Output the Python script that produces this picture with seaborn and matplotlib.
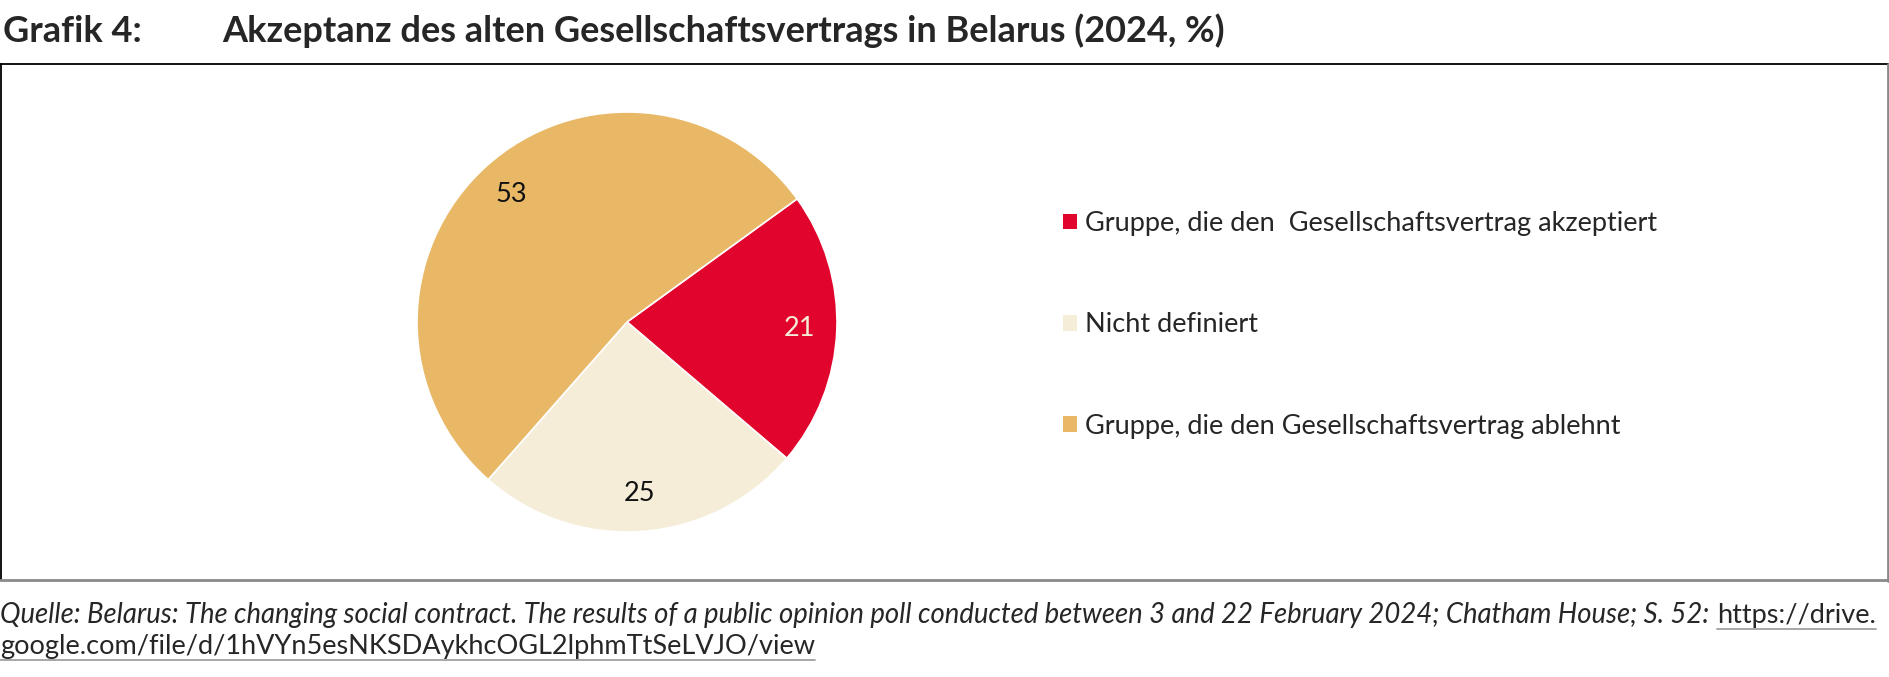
import matplotlib
matplotlib.use("Agg")
import matplotlib.pyplot as plt
import seaborn as sns
from matplotlib.lines import Line2D
from matplotlib.patches import Patch

# data
labels = ["Gruppe, die den  Gesellschaftsvertrag akzeptiert",
          "Nicht definiert",
          "Gruppe, die den Gesellschaftsvertrag ablehnt"]
values = [21, 25, 53]
colors = ["#E1052D", "#F5EDD7", "#E8B867"]
label_colors = ["#F5EDD7", "#111111", "#111111"]

title_num = "Grafik 4:"
title = "Akzeptanz des alten Gesellschaftsvertrags in Belarus (2024, %)"
source = ("Quelle: Belarus: The changing social contract. The results of a public opinion poll "
          "conducted between 3 and 22 February 2024; Chatham House; S. 52:")
link1 = "https://drive."
link2 = "google.com/file/d/1hVYn5esNKSDAykhcOGL2lphmTtSeLVJO/view"

sns.set_theme(style="white")
plt.rcParams["font.family"] = ["Lato", "DejaVu Sans"]

W, H = 1890, 677
fig = plt.figure(figsize=(W / 100, H / 100), dpi=100)
fig.patch.set_facecolor("white")

def fx(px):
    return px / W

def fy(py):
    return 1 - py / H

# pie: centre (627, 322), radius 210 px
cx, cy, r = 627, 322, 210
ax = fig.add_axes([fx(cx - r), fy(cy + r), 2 * r / W, 2 * r / H])
total = sum(values)
wedges, texts, autotexts = ax.pie(
    values, colors=colors, startangle=35.9, counterclock=False,
    autopct=lambda p: f"{p * total / 100:.0f}", pctdistance=0.82,
    wedgeprops=dict(edgecolor="white", linewidth=1.2),
    textprops=dict(fontsize=19.5))
for t, c in zip(autotexts, label_colors):
    t.set_color(c)
ax.set_xlim(-1, 1)
ax.set_ylim(-1, 1)
ax.set_aspect("equal")
ax.axis("off")

# legend
handles = [Patch(facecolor=c, edgecolor="none") for c in colors]
fig.legend(handles, labels, loc="upper left",
           bbox_to_anchor=(fx(1063), fy(211)), frameon=False,
           fontsize=19.5, handlelength=0.52, handleheight=0.52,
           handletextpad=0.3, labelspacing=2.82, borderpad=0, borderaxespad=0)

# title
fig.text(fx(3), fy(42), title_num, fontsize=26, fontweight="bold", va="baseline")
fig.text(fx(222), fy(42), title, fontsize=26, fontweight="bold", va="baseline")

# frame
fig.add_artist(Line2D([fx(0), fx(1889)], [fy(64), fy(64)], color="black", lw=1.3))
fig.add_artist(Line2D([fx(1), fx(1)], [fy(64), fy(580)], color="black", lw=1.3))
fig.add_artist(Line2D([fx(1888), fx(1888)], [fy(64), fy(581)], color="#8a8a8a", lw=2))
fig.add_artist(Line2D([fx(0), fx(1889)], [fy(580), fy(580)], color="#8a8a8a", lw=2))

# source
s = fig.text(fx(0), fy(623), source, fontsize=19.8, style="italic", va="baseline")
fig.canvas.draw()
renderer = fig.canvas.get_renderer()
sx = s.get_window_extent(renderer).x1 + 8
l1 = fig.text(sx / W, fy(623), link1, fontsize=19.5, va="baseline")
l2 = fig.text(fx(0), fy(654), link2, fontsize=19.5, va="baseline")

fig.canvas.draw()
for t in (l1, l2):
    bb = t.get_window_extent(renderer)
    y = (bb.y0 - 1) / H
    fig.add_artist(Line2D([bb.x0 / W, bb.x1 / W], [y, y], color="#a0a0a0", lw=1.3))

fig.savefig("out.png", dpi=100, facecolor="white")
